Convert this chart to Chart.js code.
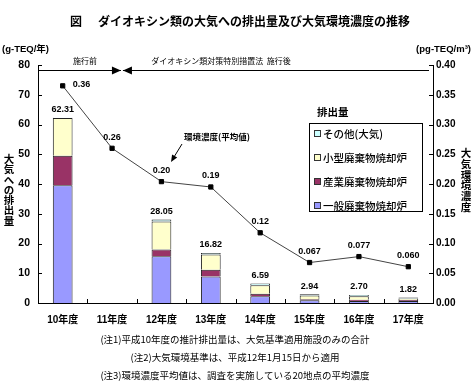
<!DOCTYPE html>
<html><head><meta charset="utf-8">
<script src="https://cdn.jsdelivr.net/npm/chart.js@4"></script>
<style>html,body{margin:0;padding:0;background:#fff}</style>
</head><body>
<canvas id="c" width="476" height="390"></canvas>
<script>
// ---- data ----
const categories = ['10年度','11年度','12年度','13年度','14年度','15年度','16年度','17年度'];
const generalWaste = [39.6, null, 15.7, 8.9, 2.3, 0.9, 0.7, 0.7];
const industrialWaste = [9.9, null, 2.3, 2.3, 0.8, 0.4, 0.4, 0.3];
const smallIncinerator = [12.7, null, 9.4, 5.1, 2.9, 1.2, 1.2, 0.5];
const otherAir = [0.11, null, 0.65, 0.52, 0.59, 0.44, 0.40, 0.32];
const totals = [62.31, null, 28.05, 16.82, 6.59, 2.94, 2.70, 1.82];
const concentration = [0.365, 0.26, 0.204, 0.195, 0.118, 0.068, 0.078, 0.061];
const concLabels = ['0.36','0.26','0.20','0.19','0.12','0.067','0.077','0.060'];
const seriesNames = ['一般廃棄物焼却炉','産業廃棄物焼却炉','小型廃棄物焼却炉','その他(大気)'];
const lineName = '環境濃度(平均値)';
const leftAxisTitle = '大気への排出量';
const rightAxisTitle = '大気環境濃度';
const leftUnit = '(g-TEQ/年)';
const rightUnit = '(pg-TEQ/m³)';
const titleMark = '図';
const titleText = 'ダイオキシン類の大気への排出量及び大気環境濃度の推移';
const beforeText = '施行前';
const afterText = 'ダイオキシン類対策特別措置法  施行後';
const legendTitle = '排出量';
const notes = ['(注1)平成10年度の推計排出量は、大気基準適用施設のみの合計',
               '(注2)大気環境基準は、平成12年1月15日から適用',
               '(注3)環境濃度平均値は、調査を実施している20地点の平均濃度'];

const JP = '"Noto Sans CJK JP", sans-serif';
const NUMJP = '"Liberation Sans", "Noto Sans CJK JP", sans-serif';
const colors = ['#9999FF', '#993366', '#FFFFCC', '#CCFFFF'];

function font(size, weight, fam) { return (weight || 'normal') + ' ' + size + 'px ' + (fam || JP); }

function arrowHead(ctx, x, y, dir, len, half) {
  ctx.beginPath();
  ctx.moveTo(x, y);
  ctx.lineTo(x - dir * len, y - half);
  ctx.lineTo(x - dir * len, y + half);
  ctx.closePath();
  ctx.fill();
}

const overlay = {
  id: 'overlay',
  afterDatasetsDraw(chart) {
    const ctx = chart.ctx;
    const x = chart.scales.x, y = chart.scales.y, y1 = chart.scales.y1;
    const area = chart.chartArea;
    ctx.save();
    ctx.fillStyle = '#000'; ctx.strokeStyle = '#000';

    // inward tick marks
    ctx.lineWidth = 1;
    ctx.beginPath();
    y.ticks.forEach(t => { const p = Math.round(y.getPixelForValue(t.value)) + 0.5; ctx.moveTo(area.left, p); ctx.lineTo(area.left + 4, p); });
    y1.ticks.forEach(t => { const p = Math.round(y1.getPixelForValue(t.value)) + 0.5; ctx.moveTo(area.right, p); ctx.lineTo(area.right - 4, p); });
    const cw = (x.getPixelForValue(1) - x.getPixelForValue(0));
    for (let i = 0; i < categories.length - 1; i++) {
      const p = Math.round(x.getPixelForValue(i) + cw / 2) + 0.5;
      ctx.moveTo(p, area.bottom); ctx.lineTo(p, area.bottom - 4);
    }
    ctx.stroke();

    // bar totals
    ctx.font = font(9, 'bold', NUMJP);
    ctx.textAlign = 'center'; ctx.textBaseline = 'middle';
    totals.forEach((v, i) => {
      if (v == null) return;
      ctx.fillText(v.toFixed(2), x.getPixelForValue(i), y.getPixelForValue(v) - 8);
    });

    // line labels
    const lineMeta = chart.getDatasetMeta(4);
    lineMeta.data.forEach((pt, i) => {
      if (i === 0) { ctx.textAlign = 'left'; ctx.fillText(concLabels[i], pt.x + 10, pt.y - 1); }
      else { ctx.textAlign = 'center'; ctx.fillText(concLabels[i], pt.x, pt.y - 11); }
    });

    // title
    ctx.font = font(12, 'bold');
    ctx.textAlign = 'left';
    ctx.fillText(titleMark, 70, 21);
    ctx.fillText(titleText, 98, 21);

    // units
    ctx.font = font(9.5, 'bold', NUMJP);
    ctx.textAlign = 'left'; ctx.fillText(leftUnit, 2, 49);
    ctx.textAlign = 'right'; ctx.fillText(rightUnit, 471, 49);

    // vertical axis titles
    ctx.font = font(10.5, 'bold');
    ctx.textAlign = 'center';
    [...leftAxisTitle].forEach((ch, i) => ctx.fillText(ch, 9, 159 + i * 10.3));
    [...rightAxisTitle].forEach((ch, i) => ctx.fillText(ch, 466, 153 + i * 10.8));

    // enforcement arrows
    const meet = x.getPixelForValue(1) + cw * 0.2;
    const ay = 70.5;
    ctx.lineWidth = 1.2;
    ctx.beginPath();
    ctx.moveTo(area.left, ay); ctx.lineTo(meet - 1, ay);
    ctx.moveTo(meet + 1, ay); ctx.lineTo(area.right - 4, ay);
    ctx.stroke();
    arrowHead(ctx, meet - 1, ay, 1, 9, 4);
    arrowHead(ctx, meet + 1, ay, -1, 9, 4);
    ctx.font = font(8, 'normal');
    ctx.textAlign = 'center';
    ctx.fillText(beforeText, 85, 61);
    ctx.fillText(afterText, 221, 61);

    // line annotation
    ctx.font = font(8.5, 'bold');
    ctx.textAlign = 'left';
    ctx.fillText(lineName, 184, 137);
    ctx.lineWidth = 1;
    ctx.beginPath(); ctx.moveTo(182, 144); ctx.lineTo(174, 157); ctx.stroke();
    ctx.save();
    ctx.translate(171, 162);
    ctx.rotate(Math.atan2(162 - 144, 171 - 182));
    arrowHead(ctx, 0, 0, 1, 7, 3);
    ctx.restore();

    // legend
    ctx.font = font(10.5, 'bold');
    ctx.textAlign = 'left';
    ctx.fillText(legendTitle, 317, 112);
    ctx.fillStyle = '#fff';
    ctx.fillRect(309.5, 123.5, 113, 88);
    ctx.strokeStyle = '#000'; ctx.lineWidth = 1;
    ctx.strokeRect(309.5, 123.5, 113, 88);
    const order = [3, 2, 1, 0];
    const rows = [134, 158, 182, 206];
    ctx.font = font(10.5, '500');
    order.forEach((di, r) => {
      const ds = chart.data.datasets[di];
      ctx.fillStyle = ds.backgroundColor;
      ctx.fillRect(314.5, rows[r] - 3.5, 6, 6);
      ctx.strokeStyle = '#333';
      ctx.strokeRect(314.5, rows[r] - 3.5, 6, 6);
      ctx.fillStyle = '#000';
      ctx.fillText(ds.label, 323, rows[r]);
    });

    // notes
    ctx.font = font(9.5, 'normal');
    ctx.textAlign = 'center';
    ctx.fillStyle = '#000';
    const noteY = [339, 357, 375];
    notes.forEach((n, i) => ctx.fillText(n, 235, noteY[i]));
    ctx.restore();
  }
};

const barSeries = [generalWaste, industrialWaste, smallIncinerator, otherAir];
const datasets = barSeries.map((d, i) => ({
  type: 'bar', label: seriesNames[i], data: d, backgroundColor: colors[i],
  borderColor: '#222', borderWidth: 1, yAxisID: 'y', stack: 'em', order: 2,
  categoryPercentage: 0.8, barPercentage: 0.5
}));
datasets.push({
  type: 'line', label: lineName, data: concentration, yAxisID: 'y1', order: 0,
  borderColor: '#444', borderWidth: 1, tension: 0,
  pointStyle: 'rect', pointRadius: 3, pointBackgroundColor: '#000', pointBorderColor: '#000'
});

new Chart(document.getElementById('c'), {
  type: 'bar',
  data: { labels: categories, datasets },
  options: {
    responsive: false, animation: false,
    layout: { padding: { top: 65, left: 0, right: 0, bottom: 57 } },
    plugins: { legend: { display: false }, tooltip: { enabled: false } },
    scales: {
      x: {
        stacked: true, offset: true,
        grid: { display: false }, border: { display: true, color: '#000', width: 1 },
        ticks: { color: '#000', font: { family: NUMJP, size: 10, weight: 'bold' }, padding: 3, maxRotation: 0 },
        afterFit: s => { s.height = 30; }
      },
      y: {
        stacked: true, min: 0, max: 80, position: 'left',
        grid: { display: false, drawTicks: false }, border: { display: true, color: '#000', width: 1 },
        ticks: { stepSize: 10, color: '#000', font: { family: NUMJP, size: 10.5, weight: 'bold' }, padding: 8 },
        afterFit: s => { s.width = 38; }
      },
      y1: {
        min: 0, max: 0.4, position: 'right',
        grid: { display: false, drawTicks: false }, border: { display: true, color: '#000', width: 1 },
        ticks: { stepSize: 0.05, color: '#000', font: { family: NUMJP, size: 10, weight: 'bold' }, padding: 3,
                 callback: v => v.toFixed(2) },
        afterFit: s => { s.width = 43; }
      }
    }
  },
  plugins: [overlay]
});
</script>
</body></html>
